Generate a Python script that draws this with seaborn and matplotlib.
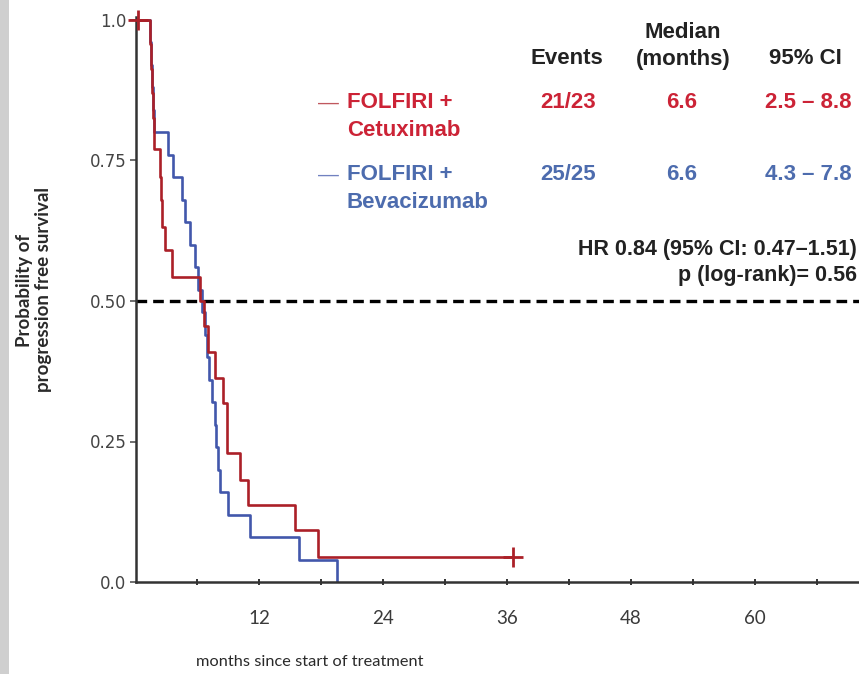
import matplotlib
matplotlib.use("Agg")
import matplotlib.pyplot as plt
import seaborn as sns
import pandas as pd
from matplotlib.patches import Rectangle

# ---- data ----
red_time = [0, 1.45, 1.55, 1.65, 1.75, 1.85, 2.4, 2.5, 2.6, 2.9, 3.6, 6.3, 6.7, 7.1, 7.7,
            8.5, 8.9, 10.2, 10.9, 15.5, 17.7, 36.6]
red_surv = [1.0, 0.957, 0.913, 0.87, 0.826, 0.77, 0.72, 0.68, 0.632, 0.59, 0.543, 0.50, 0.455,
            0.41, 0.363, 0.318, 0.229, 0.181, 0.137, 0.0925, 0.0445, 0.0445]
red_cens_time = [0.3, 36.6]
red_cens_surv = [1.0, 0.0445]

blue_time = [0, 1.45, 1.55, 1.65, 1.75, 1.85, 3.2, 3.7, 4.5, 4.8, 5.3, 5.8, 6.1, 6.5, 6.8, 7.0,
             7.2, 7.45, 7.7, 7.85, 8.0, 8.2, 9.0, 11.1, 15.9, 19.5]
blue_surv = [1.0, 0.96, 0.92, 0.88, 0.84, 0.80, 0.76, 0.72, 0.68, 0.64, 0.60, 0.56, 0.52, 0.48,
             0.44, 0.40, 0.36, 0.32, 0.28, 0.24, 0.20, 0.16, 0.12, 0.08, 0.04, 0.0]

arm_line1 = ["FOLFIRI +", "FOLFIRI +"]
arm_line2 = ["Cetuximab", "Bevacizumab"]
events = ["21/23", "25/25"]
medians = ["6.6", "6.6"]
cis = ["2.5 \u2013 8.8", "4.3 \u2013 7.8"]
hr_text = "HR 0.84 (95% CI: 0.47\u20131.51)"
p_text = "p (log-rank)= 0.56"

xticks = [12, 24, 36, 48, 60]
yticks = [0.0, 0.25, 0.50, 0.75, 1.0]
ytick_labels = ["0.0", "0.25", "0.50", "0.75", "1.0"]

RED_LINE = "#ab2028"
BLUE_LINE = "#4257ab"
RED_TXT = "#cc2336"
BLUE_TXT = "#4d6cae"

sns.set_style("ticks")
plt.rcParams["font.family"] = ["Liberation Sans", "DejaVu Sans"]
HUM = ["Lato", "DejaVu Sans"]

W, H = 859, 674
fig = plt.figure(figsize=(W / 100, H / 100), dpi=100)
fig.patch.set_facecolor("white")

x0px, x12px = 135, 259
px_per_month = (x12px - x0px) / 12.0
ax_left = 136
xmin = (ax_left - x0px) / px_per_month
xmax = (W - x0px) / px_per_month
y1px, y0px = 20, 582
ytop = 1.01
top_px = y0px - ytop * (y0px - y1px)
ax = fig.add_axes([ax_left / W, 1 - y0px / H, (W - ax_left) / W, (y0px - top_px) / H])

df_red = pd.DataFrame({"t": red_time, "s": red_surv})
df_blue = pd.DataFrame({"t": blue_time, "s": blue_surv})
sns.lineplot(data=df_blue, x="t", y="s", drawstyle="steps-post", color=BLUE_LINE,
             linewidth=1.9, estimator=None, sort=False, ax=ax)
sns.lineplot(data=df_red, x="t", y="s", drawstyle="steps-post", color=RED_LINE,
             linewidth=1.9, estimator=None, sort=False, ax=ax)
sns.scatterplot(x=red_cens_time, y=red_cens_surv, marker="+", s=220, color=RED_LINE,
                linewidth=2, ax=ax, zorder=5, clip_on=False)

ax.axhline(0.5, color="black", linewidth=2.4, dashes=(3.2, 1.8), zorder=1)

ax.set_xlim(xmin, xmax)
ax.set_ylim(0, ytop)
sns.despine(ax=ax)
for s in ["left", "bottom"]:
    ax.spines[s].set_color("#333333")
    ax.spines[s].set_linewidth(1.8)
ax.spines["left"].set_bounds(0, 1.005)

ax.set_xticks(xticks)
ax.set_xticklabels([str(v) for v in xticks], fontfamily=HUM, fontsize=13.5, color="#3a3a3a")
ax.set_xticks([6, 18, 30, 42, 54, 66], minor=True)
ax.tick_params(axis="x", which="both", direction="inout", length=4, width=1.4,
               color="#333333", pad=18)
ax.set_yticks(yticks)
ax.set_yticklabels(ytick_labels, fontfamily="DejaVu Sans", fontsize=12, color="#444444")
ax.tick_params(axis="y", direction="out", length=4, width=1.2, color="#555555", pad=3)
ax.set_xlabel("")
ax.set_ylabel("")

fig.text(310 / W, 1 - 662 / H, "months since start of treatment", ha="center", va="center",
         fontfamily=HUM, fontsize=11.8, color="#2a2a2a")
fig.text(34 / W, 1 - 290 / H, "Probability of\nprogression free survival", rotation=90,
         ha="center", va="center", multialignment="center", fontfamily=HUM,
         fontweight="bold", fontsize=13.5, color="#2a2a2a", linespacing=1.1)

# left grey border strip
fig.patches.append(Rectangle((0, 0), 9 / W, 1, transform=fig.transFigure,
                             facecolor="#cfcfcf", edgecolor="none", zorder=0))

# ---- table text ----
def ftxt(xp, yp, s, **kw):
    kw.setdefault("fontweight", "bold")
    kw.setdefault("fontsize", 16)
    fig.text(xp / W, 1 - yp / H, s, va="center", **kw)

ftxt(683, 32, "Median", ha="center", color="#222222")
ftxt(567, 59, "Events", ha="center", color="#222222")
ftxt(683, 59, "(months)", ha="center", color="#222222")
ftxt(805, 59, "95% CI", ha="center", color="#222222")

rows_y = [103, 175]
line_cols = [RED_LINE, BLUE_LINE]
txt_cols = [RED_TXT, BLUE_TXT]
for i in range(2):
    yv = rows_y[i]
    fig.text(318 / W, 1 - yv / H, "\u2014", va="center", ha="left", fontsize=15,
             color=line_cols[i], alpha=0.75)
    ftxt(347, yv, arm_line1[i], ha="left", color=txt_cols[i])
    ftxt(347, yv + 27, arm_line2[i], ha="left", color=txt_cols[i])
    ftxt(568, yv, events[i], ha="center", color=txt_cols[i])
    ftxt(682, yv, medians[i], ha="center", color=txt_cols[i])
    ftxt(808, yv, cis[i], ha="center", color=txt_cols[i])

ftxt(857, 250, hr_text, ha="right", color="#222222", fontsize=15.5)
ftxt(857, 276, p_text, ha="right", color="#222222", fontsize=15.5)

fig.savefig("out.png", dpi=100, facecolor="white")
